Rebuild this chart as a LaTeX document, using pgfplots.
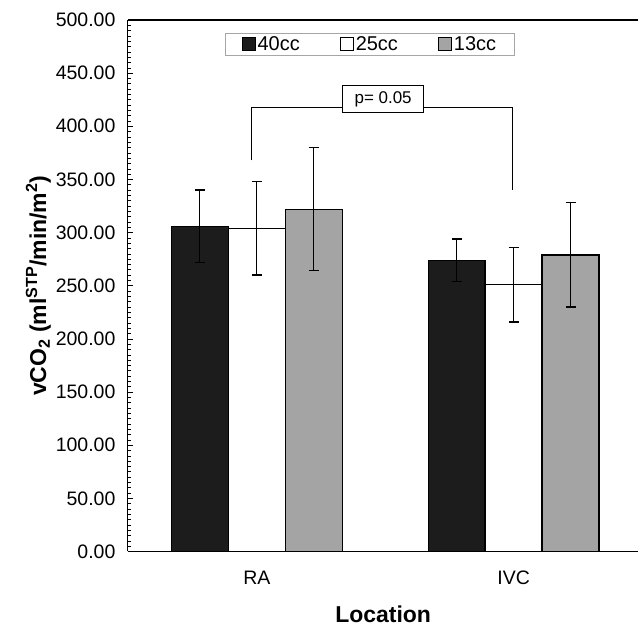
\documentclass[border=0pt]{standalone}
\usepackage{fontspec}
\setmainfont{Liberation Sans}
\usepackage{pgfplots}
\pgfplotsset{compat=1.18}
\definecolor{darkbar}{HTML}{1C1C1C}
\definecolor{graybar}{HTML}{A4A4A4}
\begin{document}
\begin{tikzpicture}
\begin{axis}[
    name=ax,
    scale only axis,
    width=511pt, height=532pt,
    xmin=-0.502, xmax=1.486,
    ymin=0, ymax=500,
    ybar=0pt, bar width=57pt,
    axis x line*=bottom, axis y line*=left,
    axis line style={line width=1.2pt},
    xtick={0,1}, xticklabels={RA,IVC},
    major x tick style={draw=none},
    ytick distance=50, minor y tick num=9,
    tick align=inside,
    major tick length=5pt, minor tick length=3pt,
    tick style={black, line width=0.6pt},
    yticklabel style={/pgf/number format/fixed, /pgf/number format/fixed zerofill,
        /pgf/number format/precision=2, xshift=-9pt},
    /pgf/number format/assume math mode=true,
    ticklabel style={font=\fontsize{19.5}{23}\selectfont},
    xticklabel style={yshift=-16pt},
    xlabel={\textbf{Location}},
    ylabel={\textbf{vCO\textsubscript{2} (ml\textsuperscript{STP}/min/m\textsuperscript{2})}},
    label style={font=\fontsize{23}{27}\selectfont},
    xlabel style={yshift=-14pt},
    ylabel style={yshift=-2pt},
    legend columns=3,
    legend style={at={(rel axis cs:0.474,0.954)}, anchor=center,
        draw=gray!70, line width=0.8pt, font=\fontsize{20}{24}\selectfont,
        inner xsep=16pt, inner ysep=1pt,
        /tikz/every even column/.append style={column sep=38pt}},
    legend image code/.code={\draw[#1, line width=1pt, draw=black] (0pt,-6pt) rectangle (13pt,7pt);},
    error bars/y dir=both, error bars/y explicit,
    error bars/error bar style={line width=1.3pt, black},
    error bars/error mark options={rotate=90, mark size=5pt, line width=1.3pt, black},
    clip=false,
]
\addplot[fill=darkbar, draw=black, line width=1.3pt] coordinates {(0,306) +- (0,34) (1,274) +- (0,20)};
\addplot[fill=white, draw=black, line width=1.3pt] coordinates {(0,304) +- (0,44) (1,251) +- (0,35)};
\addplot[fill=graybar, draw=black, line width=1.3pt] coordinates {(0,322) +- (0,58) (1,279) +- (0,49)};
\legend{40cc,25cc,13cc}
\draw[line width=1.2pt] (rel axis cs:0,1) -- (rel axis cs:1,1);
\draw[line width=1.1pt] (axis cs:-0.02,368) |- (axis cs:0.995,417.6) -- (axis cs:0.995,340);
\node[draw, line width=1.1pt, fill=white, minimum width=81pt, minimum height=27pt, inner sep=0pt,
    font=\fontsize{17}{20}\selectfont] at (axis cs:0.492,425.3) {p= 0.05};
\end{axis}
\path[use as bounding box] ([shift={(-128pt,-73pt)}]ax.south west) rectangle ([shift={(0pt,20pt)}]ax.north east);
\end{tikzpicture}
\end{document}
